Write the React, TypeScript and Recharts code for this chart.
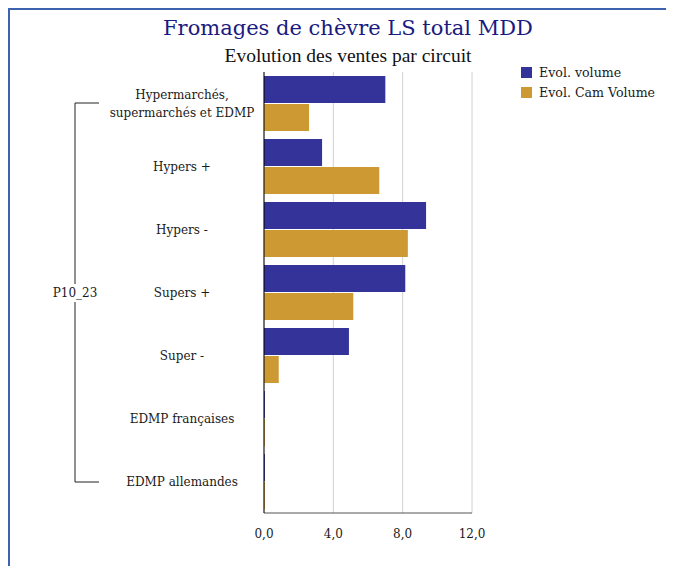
import { Bar, BarChart, CartesianGrid, XAxis, YAxis } from "recharts";

const categories = [
  "Hypermarchés,\nsupermarchés et EDMP",
  "Hypers +",
  "Hypers -",
  "Supers +",
  "Super -",
  "EDMP françaises",
  "EDMP allemandes",
];
const evolVolume = [7.0, 3.35, 9.35, 8.15, 4.9, 0.05, 0.05];
const evolCamVolume = [2.6, 6.65, 8.3, 5.15, 0.85, 0.05, 0.05];
const xTicks = [0, 4, 8, 12];
const groupLabel = "P10_23";

const data = categories.map((name, i) => ({
  name,
  volume: evolVolume[i],
  cam: evolCamVolume[i],
}));

const BLUE = "#333399";
const GOLD = "#CC9933";
const SERIF = "'DejaVu Serif', serif";

function CategoryTick(props: any) {
  const { x, y, payload } = props;
  const lines = String(payload.value).split("\n");
  const cx = x - 74;
  const start = y - ((lines.length - 1) * 18) / 2;
  return (
    <text x={cx} y={start} textAnchor="middle" fontFamily={SERIF} fontSize={12} fill="#1a1a1a" dominantBaseline="central">
      {lines.map((l, i) => (
        <tspan key={i} x={cx} dy={i === 0 ? 0 : 18}>
          {l}
        </tspan>
      ))}
    </text>
  );
}

function LegendBox() {
  const items = [
    { label: "Evol. volume", color: BLUE },
    { label: "Evol. Cam Volume", color: GOLD },
  ];
  return (
    <div>
      {items.map((it) => (
        <div key={it.label} style={{ display: "flex", alignItems: "center", height: 20 }}>
          <span style={{ width: 11, height: 11, background: it.color, marginRight: 7 }} />
          <span style={{ fontFamily: SERIF, fontSize: 12.6, color: "#1a1a1a" }}>{it.label}</span>
        </div>
      ))}
    </div>
  );
}

export default function App() {
  return (
    <div style={{ position: "relative", width: 666, height: 558, background: "#fff" }}>
      <div
        style={{
          position: "absolute",
          left: 0,
          top: 0,
          width: 666,
          height: 558,
          borderLeft: "2px solid #3d63b0",
          borderTop: "2px solid #3d63b0",
          boxSizing: "border-box",
        }}
      />
      <div
        style={{
          position: "absolute",
          top: 8,
          left: 0,
          width: 680,
          textAlign: "center",
          fontFamily: SERIF,
          fontSize: 21,
          color: "#1a1a80",
        }}
      >
        Fromages de chèvre LS total MDD
      </div>
      <div
        style={{
          position: "absolute",
          top: 37,
          left: 0,
          width: 680,
          textAlign: "center",
          fontFamily: "'Liberation Serif', serif",
          fontSize: 19.5,
          color: "#111",
        }}
      >
        Evolution des ventes par circuit
      </div>
      <svg style={{ position: "absolute", left: 0, top: 0 }} width={666} height={558}>
        <path d="M91 95 H67 V474 H91" fill="none" stroke="#222" strokeWidth={1} />
        <rect x={42} y={276} width={50} height={18} fill="#fff" />
        <text x={67} y={285} textAnchor="middle" dominantBaseline="central" fontFamily={SERIF} fontSize={12} fill="#1a1a1a">
          {groupLabel}
        </text>
      </svg>
      <div style={{ position: "absolute", left: 513, top: 54 }}>
        <LegendBox />
      </div>
      <div style={{ position: "absolute", left: 0, top: 0 }}>
        <BarChart
          width={666}
          height={558}
          data={data}
          layout="vertical"
          margin={{ top: 64, right: 202, bottom: 23, left: 0 }}
          barCategoryGap={4}
          barGap={1}
        >
          <CartesianGrid horizontal={false} stroke="#d0d0d0" />
          <XAxis
            type="number"
            domain={[0, 12]}
            ticks={xTicks}
            tickFormatter={(v: number) => v.toFixed(1).replace(".", ",")}
            tickLine={false}
            axisLine={{ stroke: "#555" }}
            tick={{ fontFamily: SERIF, fontSize: 12, fill: "#1a1a1a" }}
            tickMargin={10}
            height={30}
            interval={0}
          />
          <YAxis
            type="category"
            dataKey="name"
            width={256}
            tickLine={false}
            axisLine={{ stroke: "#000" }}
            tick={<CategoryTick />}
            interval={0}
          />
          <Bar dataKey="volume" name="Evol. volume" fill={BLUE} isAnimationActive={false} />
          <Bar dataKey="cam" name="Evol. Cam Volume" fill={GOLD} isAnimationActive={false} />
        </BarChart>
      </div>
    </div>
  );
}
